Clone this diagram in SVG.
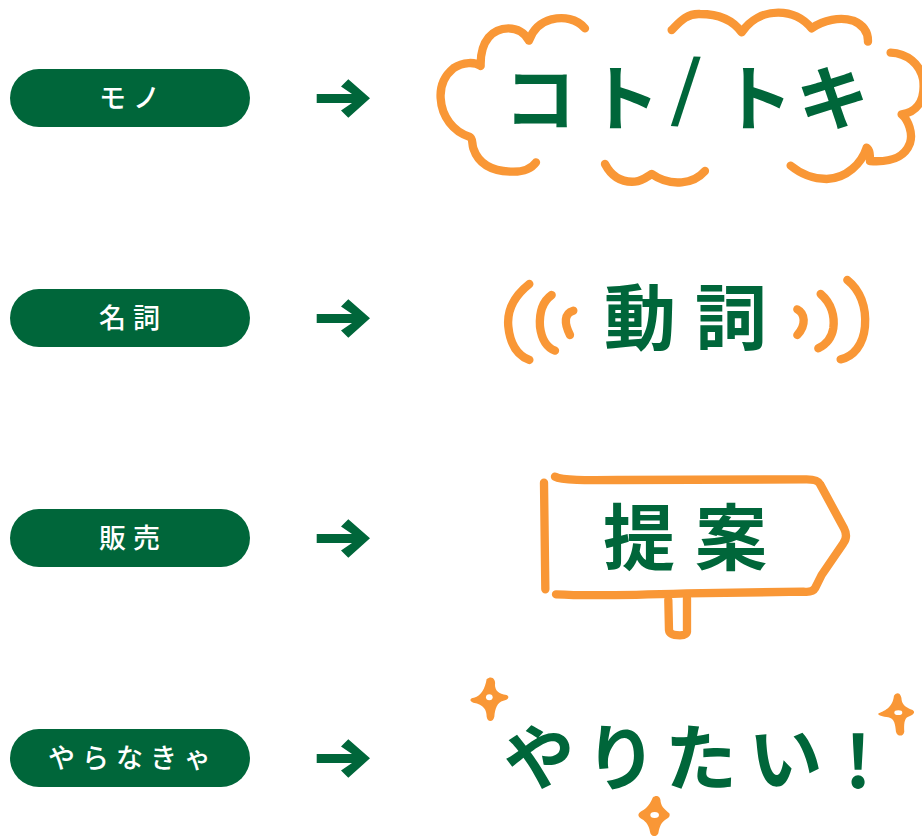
<svg xmlns="http://www.w3.org/2000/svg" xmlns:xlink="http://www.w3.org/1999/xlink" width="922" height="836" viewBox="0 0 922 836">
<style>
.pill{fill:#00663a}
.lab{fill:#fff;font-family:"Noto Sans CJK JP","Noto Sans",sans-serif;font-size:27px;font-weight:500;text-anchor:middle;letter-spacing:7px}
.big{fill:#00663a;font-family:"Noto Sans CJK JP","Noto Sans",sans-serif;font-size:72px;font-weight:700;text-anchor:middle}
.ln{fill:none;stroke:#f99736;stroke-linecap:round;stroke-linejoin:round;stroke-width:25}
.sp{fill:#f99736}
.hole{fill:#fff}
.arrow{fill:#00663a}
</style>
<defs><path id="arr" d="M348.3,79.3L341,86.500L352,94H316.7V103H352L341,110.500L348.3,117.700L370,98.300Z"/></defs>
<rect width="922" height="836" fill="#fff"/>
<g id="connectors" class="arrow">
<use xlink:href="#arr" href="#arr"/>
<use xlink:href="#arr" href="#arr" y="220"/>
<use xlink:href="#arr" href="#arr" y="440"/>
<use xlink:href="#arr" href="#arr" y="660"/>
</g>
<g id="node-mono"><rect class="pill" x="10" y="69" width="240" height="58" rx="29"/><text class="lab" x="133" y="107.500">モノ</text></g>
<g id="node-meishi"><rect class="pill" x="10" y="289" width="240" height="58" rx="29"/><text class="lab" x="133" y="328">名詞</text></g>
<g id="node-hanbai"><rect class="pill" x="10" y="509" width="240" height="58" rx="29"/><text class="lab" x="133" y="548">販売</text></g>
<g id="node-yaranakya"><rect class="pill" x="10" y="729" width="240" height="58" rx="29"/><text class="lab" x="133" y="767.500">やらなきゃ</text></g>
<g id="node-koto">
<g transform="translate(430,0) scale(.3333)">
<path class="ln" d="M465,85C440,55 400,50 365,58C335,66 310,85 297,122C285,100 265,85 235,85C190,85 150,120 152,198C135,185 100,185 70,205C40,230 30,265 32,295C35,350 70,395 118,410C130,415 125,430 130,445C145,490 185,515 250,515C285,515 305,505 318,487"/>
<path class="ln" d="M725,90C750,65 770,40 810,42C860,42 905,55 935,97C960,60 1000,38 1045,38C1090,38 1120,55 1145,85C1180,60 1230,50 1270,62C1300,75 1315,95 1314,125"/>
<path class="ln" d="M1382,158C1430,160 1470,190 1480,240C1485,290 1470,335 1415,343C1435,360 1450,400 1440,430C1425,470 1390,488 1320,483C1320,465 1320,450 1310,443C1295,490 1250,535 1190,537C1150,537 1110,520 1082,497"/>
<path class="ln" d="M525,492C545,530 575,548 615,545C640,543 650,530 665,522C690,540 720,550 755,547C785,545 810,530 825,513"/>
</g>
<text class="big" x="540" y="125">コ</text>
<text class="big" x="624" y="125">ト</text>
<text class="big" transform="rotate(4 686 96)" x="686" y="114" font-size="52" font-weight="500">/</text>
<text class="big" x="757" y="125">ト</text>
<text class="big" transform="rotate(-8 833 99)" x="833" y="125">キ</text>
</g>
<g id="node-doushi">
<g transform="translate(490,260) scale(.3333)">
<path class="ln" d="M118,72C70,110 50,150 55,200C60,250 80,285 118,300"/>
<path class="ln" d="M185,105C150,130 148,170 150,200C155,240 170,262 195,272"/>
<path class="ln" d="M250,152C222,160 222,190 240,225"/>
<path class="ln" d="M922,148C945,160 950,195 922,225"/>
<path class="ln" d="M992,102C1025,130 1035,170 1030,205C1025,235 1005,255 985,265"/>
<path class="ln" d="M1072,60C1110,90 1130,140 1125,200C1120,255 1090,290 1052,298"/>
</g>
<text class="big" x="640" y="344">動</text>
<text class="big" x="731" y="344">詞</text>
</g>
<g id="node-teian">
<g transform="translate(520,460) scale(.3333)">
<path class="ln" d="M72,68L76,388"/>
<path class="ln" d="M105,50C125,62 200,61 300,60L860,58C885,58 895,62 900,72L972,205Q985,230 970,250L905,345L885,385Q878,398 850,395L500,400C350,405 200,408 108,403"/>
<path class="ln" d="M445,420L447,510Q449,526 480,526Q503,526 501,510L501,415"/>
</g>
<text class="big" x="639" y="564">提</text>
<text class="big" x="731" y="564">案</text>
</g>
<g id="node-yaritai">
<text class="big" transform="rotate(-12 540 758)" x="540" y="784">や</text>
<text class="big" x="621" y="784">り</text>
<text class="big" x="701" y="784">た</text>
<text class="big" transform="rotate(-5 788 760)" x="786" y="784">い</text>
<text class="big" x="858" y="788" font-size="78">!</text>
<g transform="translate(460,665) scale(.3333)">
<path class="sp" d="M80,42C95,30 108,42 105,60C105,75 115,88 140,90C150,95 145,105 130,107C112,112 105,130 103,155C100,172 82,172 80,155C80,135 72,118 40,113C28,108 28,100 42,98C65,92 75,70 80,42Z"/>
<ellipse class="hole" cx="88" cy="97" rx="10" ry="9"/>
<path class="sp" d="M1302,92C1315,75 1325,90 1325,105C1328,122 1340,128 1358,135C1368,142 1360,150 1345,155C1332,160 1332,180 1333,200C1330,216 1312,215 1308,200C1306,180 1304,160 1285,157C1270,155 1250,152 1256,145C1270,138 1298,130 1302,92Z"/>
<ellipse class="hole" cx="1315" cy="143" rx="12" ry="7"/>
<path class="sp" d="M578,398C590,388 602,395 602,410C605,428 618,435 628,445C632,455 625,460 615,465C600,475 597,495 595,505C590,518 572,515 570,500C568,485 560,470 545,462C532,455 532,445 545,438C560,430 572,415 578,398Z"/>
<ellipse class="hole" cx="584" cy="450" rx="13" ry="9"/>
</g>
</g>
</svg>
